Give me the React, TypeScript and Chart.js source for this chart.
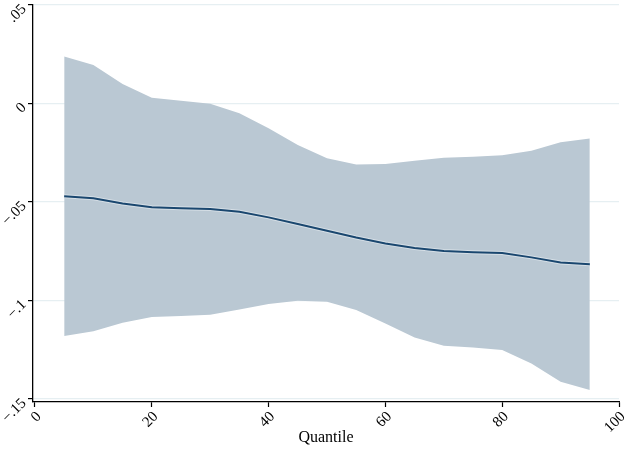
import React, { useEffect, useRef } from 'react';
import Chart from 'chart.js/auto';

const quantiles = [5, 10, 15, 20, 25, 30, 35, 40, 45, 50, 55, 60, 65, 70, 75, 80, 85, 90, 95];
const estimate = [
  -0.0471, -0.0481, -0.0507, -0.0527, -0.0531, -0.0536, -0.0549, -0.0578, -0.0612, -0.0646,
  -0.068, -0.071, -0.0733, -0.0748, -0.0755, -0.0759, -0.0781, -0.0807, -0.0816,
];
const upperCI = [
  0.0238, 0.0195, 0.0099, 0.0029, 0.0014, -0.0001, -0.005, -0.0126, -0.0211, -0.0278,
  -0.0309, -0.0307, -0.029, -0.0275, -0.027, -0.0263, -0.024, -0.0197, -0.0177,
];
const lowerCI = [
  -0.118, -0.1156, -0.1113, -0.1084, -0.1079, -0.1072, -0.1046, -0.1018, -0.1001, -0.1006,
  -0.1048, -0.1116, -0.1187, -0.1229, -0.1238, -0.1251, -0.1319, -0.1412, -0.1454,
];
const xTicks = [0, 20, 40, 60, 80, 100];
const yTicks = [0.05, 0, -0.05, -0.1, -0.15];

// Stata style: .05, 0, −.05 ...
const fmtY = (v: number) => {
  if (Math.abs(v) < 1e-9) return '0';
  const s = Math.abs(v).toFixed(2).replace(/0+$/, '').replace(/^0/, '');
  return (v < 0 ? '\u2212' : '') + s;
};

const serif = '"Liberation Serif", "Times New Roman", serif';

const App = () => {
  const canvasRef = useRef<HTMLCanvasElement | null>(null);
  const chartRef = useRef<Chart | null>(null);

  useEffect(() => {
    document.body.style.margin = '0';
    if (!canvasRef.current) return;
    if (chartRef.current) chartRef.current.destroy();

    const toPts = (arr: number[]) => quantiles.map((q, i) => ({ x: q, y: arr[i] }));

    chartRef.current = new Chart(canvasRef.current, {
      type: 'line',
      data: {
        datasets: [
          {
            label: 'upper',
            data: toPts(upperCI),
            borderWidth: 0,
            borderColor: 'rgba(0,0,0,0)',
            backgroundColor: '#bac8d3',
            pointRadius: 0,
            fill: '+1',
            tension: 0,
          },
          {
            label: 'lower',
            data: toPts(lowerCI),
            borderWidth: 0,
            borderColor: 'rgba(0,0,0,0)',
            pointRadius: 0,
            fill: false,
            tension: 0,
          },
          {
            label: 'halo',
            data: toPts(estimate),
            borderColor: '#d6dfe6',
            borderWidth: 4,
            pointRadius: 0,
            fill: false,
            tension: 0,
            order: 2,
          },
          {
            label: 'estimate',
            data: toPts(estimate),
            borderColor: '#1a476f',
            borderWidth: 2,
            pointRadius: 0,
            fill: false,
            tension: 0,
            order: 1,
          },
        ],
      },
      options: {
        animation: false,
        responsive: false,
        layout: { padding: { top: 5, right: 5, left: 0, bottom: 0 } },
        plugins: {
          legend: { display: false },
          tooltip: { enabled: false },
          filler: { drawTime: 'beforeDatasetsDraw' },
        },
        scales: {
          x: {
            type: 'linear',
            min: -0.34,
            max: 100,
            afterBuildTicks: (s: any) => {
              s.ticks = xTicks.map((v) => ({ value: v }));
            },
            afterFit: (s: any) => {
              s.height = 55;
              s.paddingLeft = 0;
              s.paddingRight = 0;
            },
            ticks: {
              minRotation: 45,
              maxRotation: 45,
              color: '#000',
              padding: 1,
              labelOffset: 4,
              font: { family: serif, size: 15 },
              callback: (v: any) => String(v),
            },
            grid: {
              drawOnChartArea: false,
              tickLength: 5,
              tickColor: '#000',
              tickWidth: 1.2,
            },
            border: { color: '#000', width: 1.3 },
            title: {
              display: true,
              text: 'Quantile',
              color: '#000',
              font: { family: serif, size: 16 },
              padding: { top: 0, bottom: 10 },
            },
          },
          y: {
            type: 'linear',
            min: -0.1515,
            max: 0.05,
            afterBuildTicks: (s: any) => {
              s.ticks = yTicks.map((v) => ({ value: v }));
            },
            afterFit: (s: any) => {
              s.width = 33;
              s.paddingTop = 0;
              s.paddingBottom = 0;
            },
            ticks: {
              minRotation: 45,
              maxRotation: 45,
              color: '#000',
              padding: 4,
              labelOffset: 2,
              font: { family: serif, size: 15 },
              callback: (v: any) => fmtY(Number(v)),
            },
            grid: {
              color: '#e6eff2',
              lineWidth: 1.2,
              tickLength: 5,
              tickColor: '#000',
              tickWidth: 1.2,
            },
            border: { color: '#000', width: 1.3 },
          },
        },
      },
    } as any);

    return () => {
      if (chartRef.current) {
        chartRef.current.destroy();
        chartRef.current = null;
      }
    };
  }, []);

  return (
    <div style={{ width: 624, height: 457, background: '#fff' }}>
      <canvas ref={canvasRef} width={624} height={457} style={{ display: 'block' }} />
    </div>
  );
};

export default App;
